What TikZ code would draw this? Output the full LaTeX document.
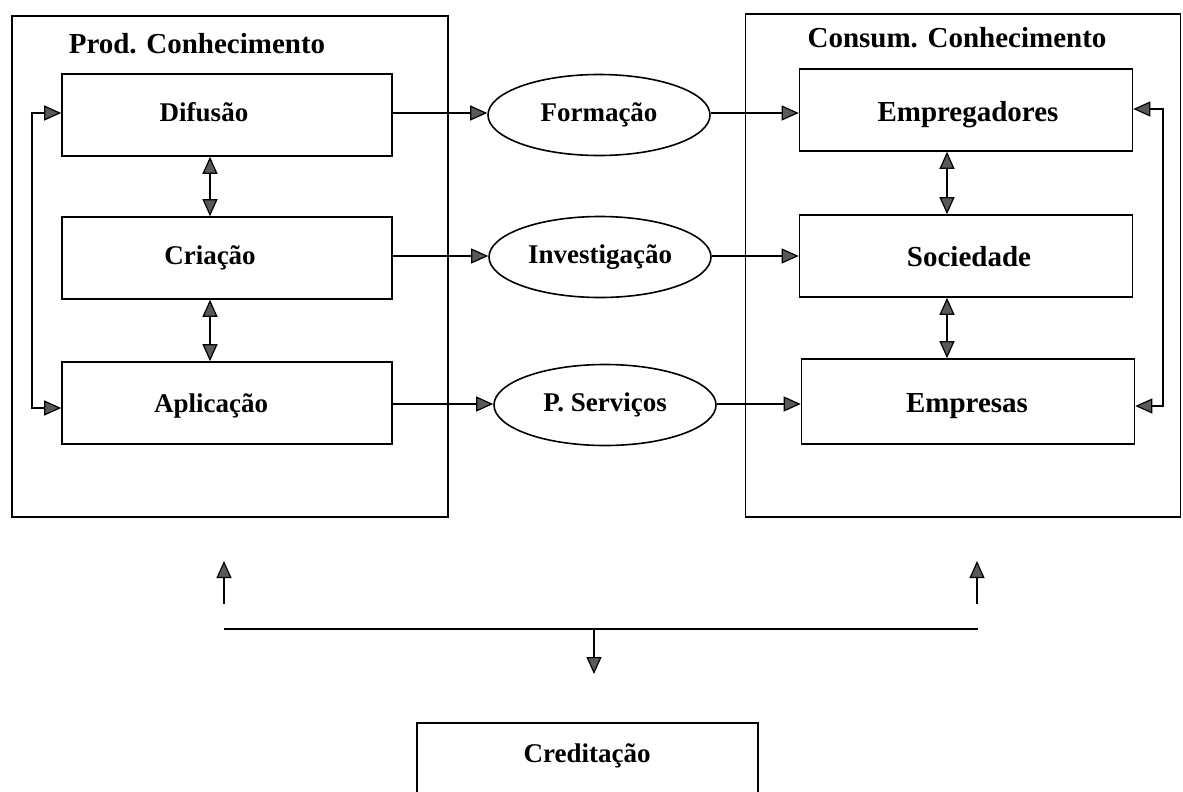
\documentclass[tikz,border=0pt]{standalone}
\usepackage{fontspec}
\setmainfont{Liberation Serif}
\usetikzlibrary{arrows.meta,shapes.geometric}
\begin{document}
\begin{tikzpicture}[x=1pt,y=-1pt,
  outer/.style={draw, line width=1.6pt, inner sep=0pt},
  inbox/.style={draw, line width=1.6pt, minimum height=82pt, inner sep=0pt},
  lbl/.style={inner sep=0pt, text height=19pt, text depth=6pt, font=\fontsize{27}{32}\selectfont\bfseries},
  rlbl/.style={inner sep=0pt, text height=21pt, text depth=7pt, font=\fontsize{29}{34}\selectfont\bfseries},
  oval/.style={draw, ellipse, line width=1.6pt, minimum width=222pt, minimum height=81pt, inner sep=0pt, text height=19pt, text depth=6pt, font=\fontsize{27}{32}\selectfont\bfseries},
  ttl/.style={font=\fontsize{29}{34}\selectfont\bfseries, inner sep=0pt},
  tip/.tip={Triangle[length=17pt,width=15pt,fill=black!65]},
  conn/.style={line width=1.2pt, -tip},
  bconn/.style={line width=1.2pt, tip-tip}
]
\useasboundingbox (0,0) rectangle (1183,792);
\clip (0,0) rectangle (1183,792);
% outer boxes
\node[outer, minimum width=436pt, minimum height=501pt] (pbox) at (230,266.5) {};
\node[outer, minimum width=435pt, minimum height=503pt] (cbox) at (963,265.5) {};
\node[ttl] (ptitle) at (197,44) {Prod. Conhecimento};
\node[ttl] (ctitle) at (957,38) {Consum. Conhecimento};
% left inner boxes
\node[inbox, minimum width=330pt] (dif) at (227,115) {};
\node[inbox, minimum width=330pt] (cri) at (227,258) {};
\node[inbox, minimum width=330pt] (apl) at (227,403) {};
\node[lbl] (difl) at (204,115) {Difusão};
\node[lbl] (cril) at (210,258) {Criação};
\node[lbl] (apll) at (211,406) {Aplicação};
% ellipses
\node[oval] (form) at (599,115) {Formação};
\node[oval] (inv) at (600,257) {Investigação};
\node[oval] (pserv) at (605,405) {P. Serviços};
% right inner boxes
\node[inbox, minimum width=333pt] (emp) at (966,110) {};
\node[inbox, minimum width=333pt] (soc) at (966,256) {};
\node[inbox, minimum width=333pt, minimum height=85pt] (empr) at (968,401.5) {};
\node[rlbl] (empl) at (968,114) {Empregadores};
\node[rlbl] (socl) at (969,259) {Sociedade};
\node[rlbl] (emprl) at (967,405) {Empresas};
% horizontal flows
\draw[conn] (dif.east |- 0,113) -- (form.west |- 0,113);
\draw[conn] (form.east |- 0,113) -- (emp.west |- 0,113);
\draw[conn] (cri.east |- 0,256) -- (inv.west |- 0,256);
\draw[conn] (inv.east |- 0,256) -- (soc.west |- 0,256);
\draw[conn] (apl.east |- 0,404) -- (pserv.west |- 0,404);
\draw[conn] (pserv.east |- 0,404) -- (empr.west |- 0,404);
% vertical bidirectional arrows
\coordinate (lx) at (210,0);
\coordinate (rx) at (947,0);
\draw[bconn] (dif.south -| lx) -- (cri.north -| lx);
\draw[bconn] (cri.south -| lx) -- (apl.north -| lx);
\draw[bconn] (emp.south -| rx) -- (soc.north -| rx);
\draw[bconn] (soc.south -| rx) -- (empr.north -| rx);
% feedback loops
\draw[bconn] (dif.west |- 0,113) -| (32,260) |- (apl.west |- 0,408);
\draw[bconn] (emp.east |- 0,109) -| (1163,260) |- (empr.east |- 0,406);
% bottom part
\coordinate (ulb) at (224,604);
\coordinate (ult) at (224,561);
\coordinate (urb) at (977,604);
\coordinate (urt) at (977,561);
\coordinate (hl) at (224,629);
\coordinate (hr) at (978,629);
\coordinate (hm) at (594,629);
\coordinate (dt) at (594,674);
\draw[conn] (ulb) -- (ult);
\draw[conn] (urb) -- (urt);
\draw[line width=1.2pt] (hl) -- (hr);
\draw[conn] (hm) -- (dt);
\node[outer, minimum width=341pt, minimum height=110pt, anchor=north] (cred) at (587.5,722) {};
\node[lbl] (credtxt) at (587,756) {Creditação};
\end{tikzpicture}
\end{document}
